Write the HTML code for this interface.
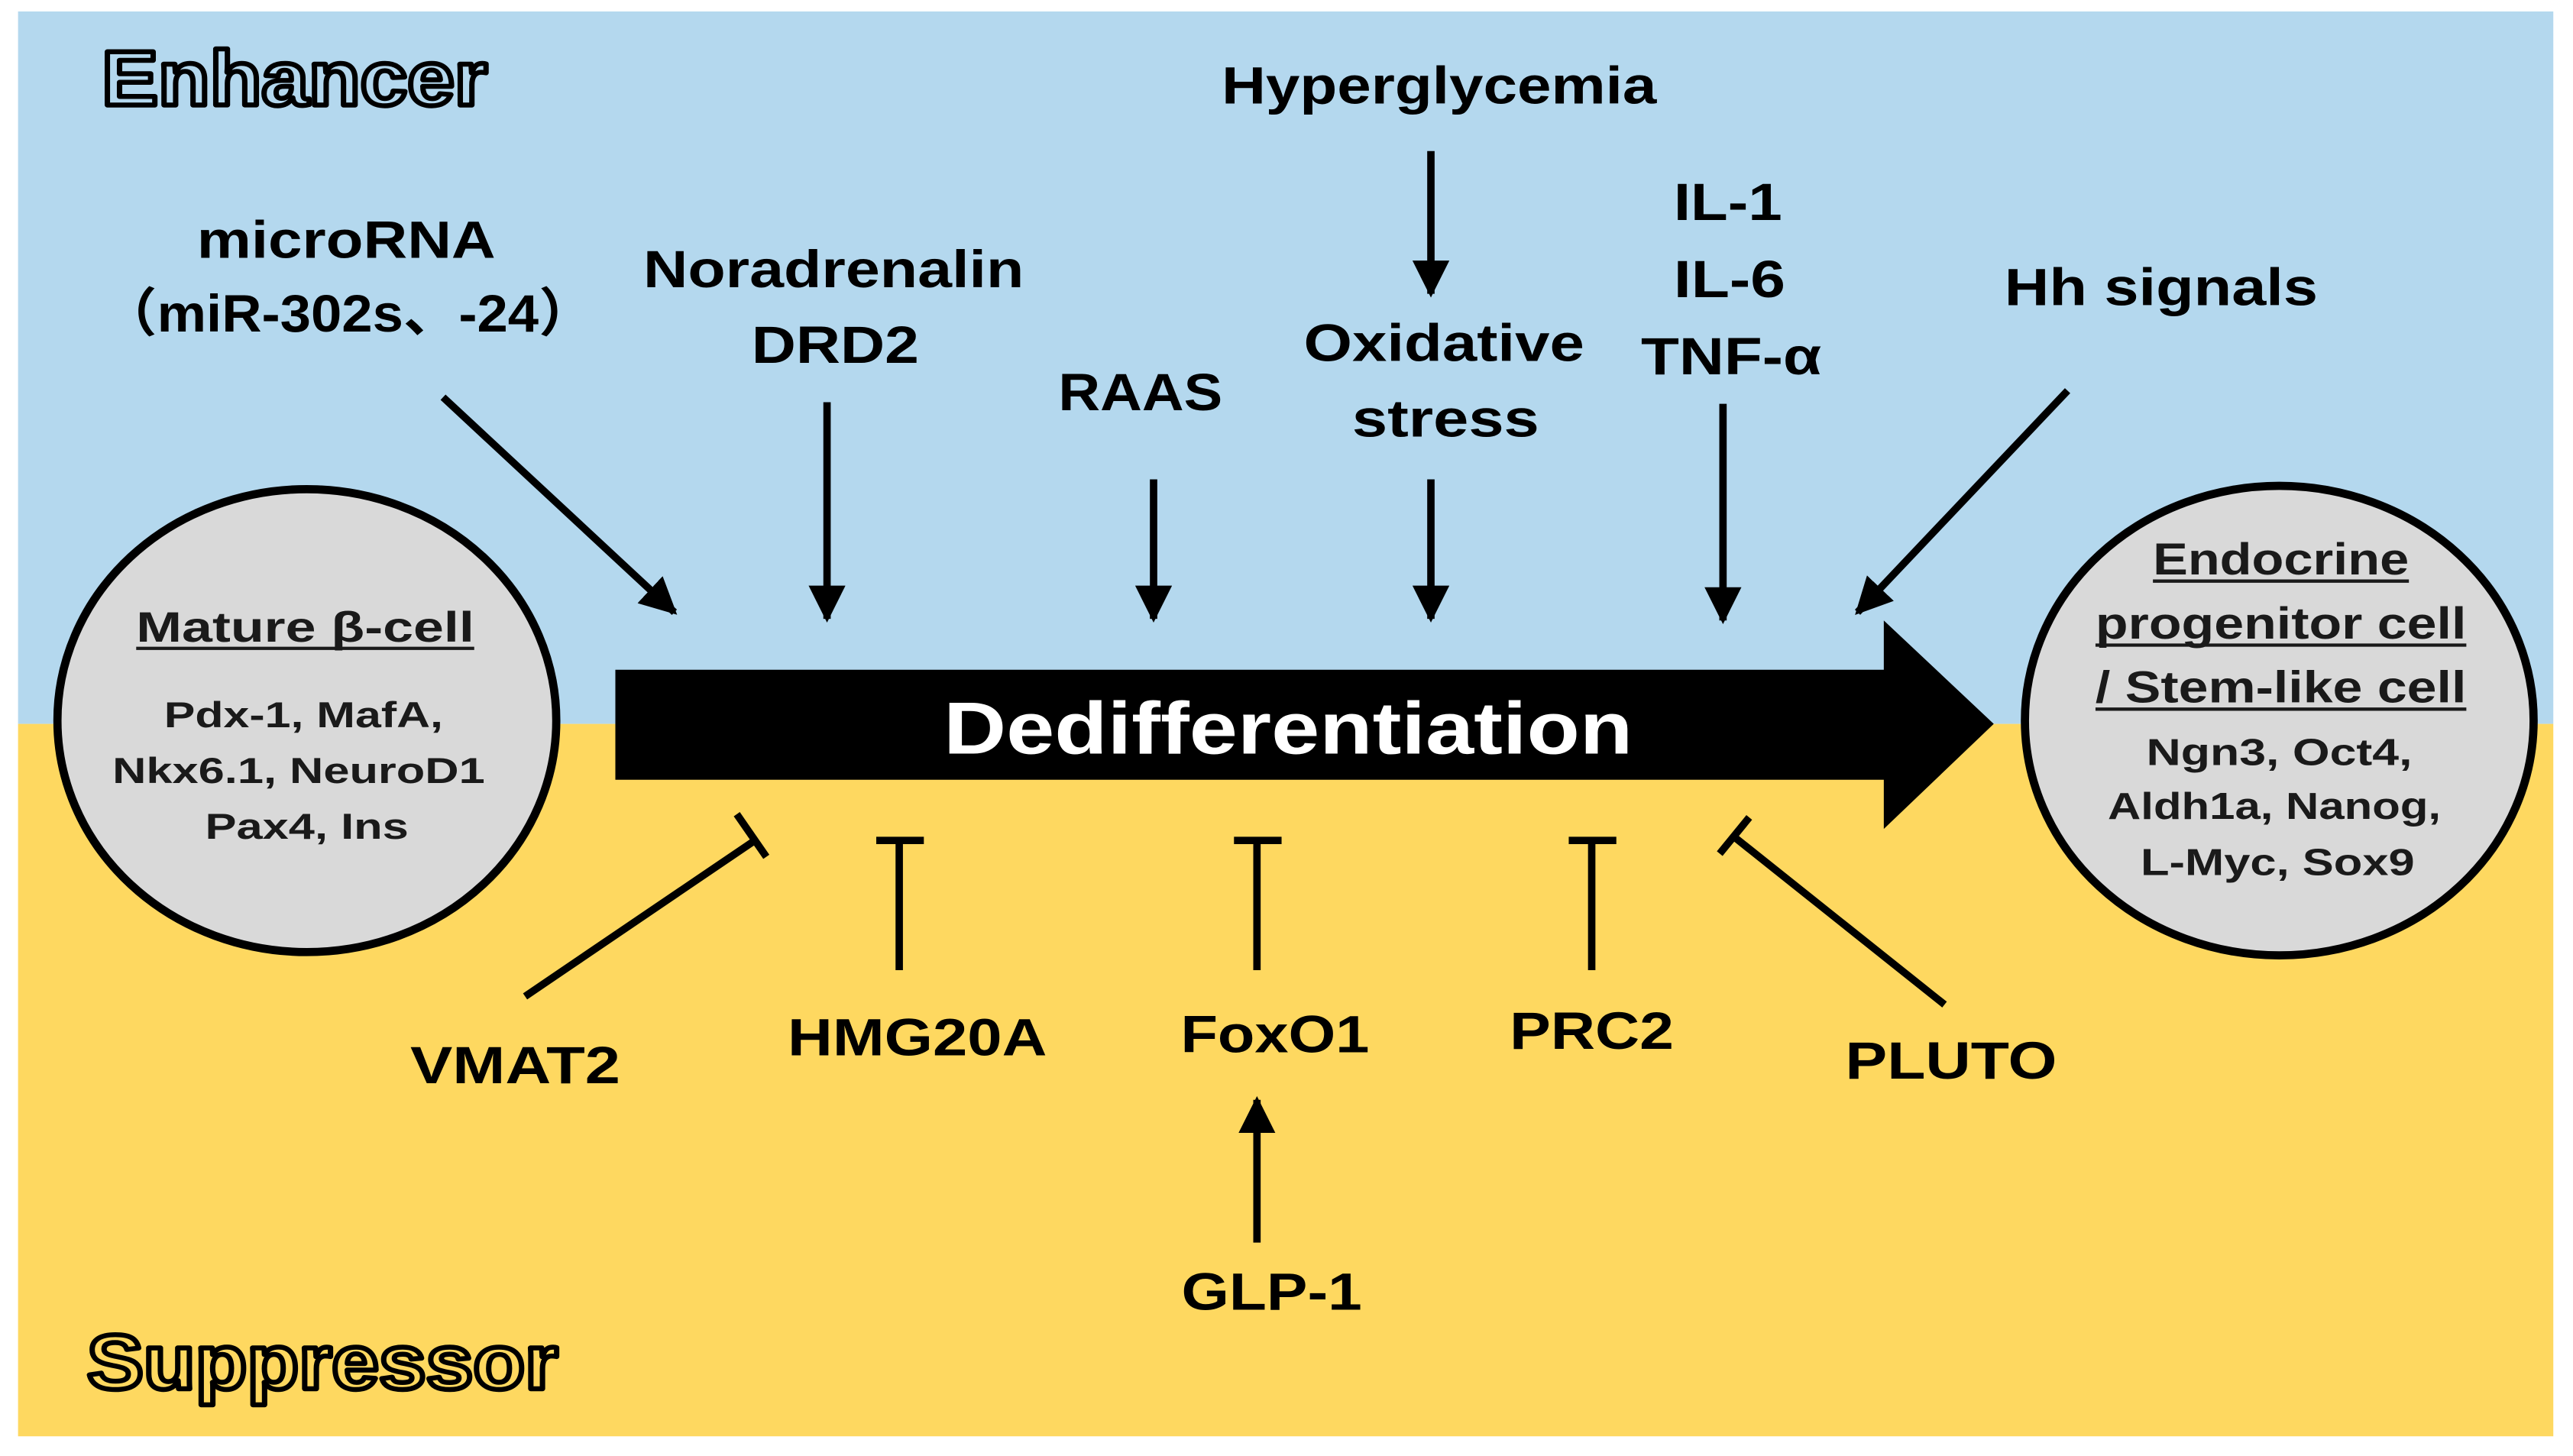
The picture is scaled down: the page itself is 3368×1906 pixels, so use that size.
<!DOCTYPE html>
<html><head><meta charset="utf-8"><style>
html,body{margin:0;padding:0;background:#fff;}
svg{display:block;}
text{font-family:"Liberation Sans","Noto Sans CJK SC",sans-serif;font-weight:bold;}
</style></head><body>
<svg width="3368" height="1906" viewBox="0 0 1568 887" preserveAspectRatio="none" xmlns="http://www.w3.org/2000/svg">
<defs>
<marker id="ah" viewBox="0 0 10 10" refX="9" refY="5" markerWidth="5" markerHeight="5" orient="auto" markerUnits="strokeWidth">
<path d="M0,0 L10,5 L0,10 z" fill="#000"/></marker>
</defs>
<rect x="0" y="0" width="1568" height="887" fill="#fff"/>
<rect x="11" y="7" width="1545" height="434" fill="#b4d8ee"/>
<rect x="11" y="441" width="1545" height="434" fill="#fed860"/>

<text x="62" y="64" font-size="47" fill="#b4d8ee" stroke="#000" stroke-width="3" stroke-linejoin="round" textLength="235" lengthAdjust="spacingAndGlyphs">Enhancer</text>
<text x="53" y="846" font-size="47" fill="#fed860" stroke="#000" stroke-width="3" stroke-linejoin="round" textLength="287" lengthAdjust="spacingAndGlyphs">Suppressor</text>

<ellipse cx="187" cy="439" rx="152" ry="141" fill="#d9d9d9" stroke="#000" stroke-width="5"/>
<ellipse cx="1389" cy="439" rx="155" ry="143" fill="#d9d9d9" stroke="#000" stroke-width="5"/>

<path d="M375,408 L1148,408 L1148,378 L1215,441 L1148,505 L1148,475 L375,475 z" fill="#000"/>
<text x="785" y="459" font-size="45" fill="#fff" text-anchor="middle" textLength="420" lengthAdjust="spacingAndGlyphs">Dedifferentiation</text>

<g stroke="#000" stroke-width="4.5" fill="none" marker-end="url(#ah)">
<line x1="270" y1="242" x2="411" y2="373"/>
<line x1="504" y1="245" x2="504" y2="377"/>
<line x1="703" y1="292" x2="703" y2="377"/>
<line x1="872" y1="92" x2="872" y2="179"/>
<line x1="872" y1="292" x2="872" y2="377"/>
<line x1="1050" y1="246" x2="1050" y2="378"/>
<line x1="1260" y1="238" x2="1132" y2="373"/>
<line x1="766" y1="757" x2="766" y2="670"/>
</g>

<g stroke="#000" stroke-width="4.5" fill="none">
<line x1="320" y1="607" x2="460" y2="512"/>
<line x1="449" y1="496" x2="467" y2="522"/>
<line x1="548" y1="591" x2="548" y2="512"/>
<line x1="534" y1="512" x2="563" y2="512"/>
<line x1="766" y1="591" x2="766" y2="512"/>
<line x1="752" y1="512" x2="781" y2="512"/>
<line x1="970" y1="591" x2="970" y2="512"/>
<line x1="956" y1="512" x2="985" y2="512"/>
<line x1="1185" y1="612" x2="1057" y2="510"/>
<line x1="1048" y1="520" x2="1066" y2="498"/>
</g>

<g font-size="32" fill="#000" text-anchor="middle">
<text x="211" y="157" textLength="182" lengthAdjust="spacingAndGlyphs">microRNA</text>
<text x="212" y="202" textLength="300" lengthAdjust="spacingAndGlyphs">（miR-302s、-24）</text>
<text x="508" y="175" textLength="232" lengthAdjust="spacingAndGlyphs">Noradrenalin</text>
<text x="509" y="221" textLength="102" lengthAdjust="spacingAndGlyphs">DRD2</text>
<text x="695" y="250" textLength="100" lengthAdjust="spacingAndGlyphs">RAAS</text>
<text x="877" y="63" textLength="265" lengthAdjust="spacingAndGlyphs">Hyperglycemia</text>
<text x="880" y="220" textLength="171" lengthAdjust="spacingAndGlyphs">Oxidative</text>
<text x="881" y="266" textLength="114" lengthAdjust="spacingAndGlyphs">stress</text>
<text x="1053" y="134" textLength="66" lengthAdjust="spacingAndGlyphs">IL-1</text>
<text x="1054" y="181" textLength="68" lengthAdjust="spacingAndGlyphs">IL-6</text>
<text x="1055" y="228" textLength="110" lengthAdjust="spacingAndGlyphs">TNF-α</text>
<text x="1317" y="186" textLength="191" lengthAdjust="spacingAndGlyphs">Hh signals</text>
<text x="314" y="660" textLength="128" lengthAdjust="spacingAndGlyphs">VMAT2</text>
<text x="559" y="643" textLength="158" lengthAdjust="spacingAndGlyphs">HMG20A</text>
<text x="777" y="641" textLength="115" lengthAdjust="spacingAndGlyphs">FoxO1</text>
<text x="970" y="639" textLength="100" lengthAdjust="spacingAndGlyphs">PRC2</text>
<text x="1189" y="657" textLength="129" lengthAdjust="spacingAndGlyphs">PLUTO</text>
<text x="775" y="798" textLength="110" lengthAdjust="spacingAndGlyphs">GLP-1</text>
</g>

<g fill="#1a1a1a" text-anchor="middle">
<text x="186" y="391" font-size="26" textLength="206" lengthAdjust="spacingAndGlyphs">Mature  β-cell</text>
<line x1="83" y1="395" x2="289" y2="395" stroke="#1a1a1a" stroke-width="2"/>
<text x="185" y="443" font-size="22" textLength="170" lengthAdjust="spacingAndGlyphs">Pdx-1, MafA,</text>
<text x="182" y="477" font-size="22" textLength="227" lengthAdjust="spacingAndGlyphs">Nkx6.1, NeuroD1</text>
<text x="187" y="511" font-size="22" textLength="124" lengthAdjust="spacingAndGlyphs">Pax4, Ins</text>

<text x="1390" y="350" font-size="27" textLength="156" lengthAdjust="spacingAndGlyphs">Endocrine</text>
<text x="1390" y="389" font-size="27" textLength="226" lengthAdjust="spacingAndGlyphs">progenitor cell</text>
<text x="1390" y="428" font-size="27" textLength="226" lengthAdjust="spacingAndGlyphs">/ Stem-like cell</text>
<line x1="1312" y1="354" x2="1468" y2="354" stroke="#1a1a1a" stroke-width="2"/>
<line x1="1277" y1="393" x2="1503" y2="393" stroke="#1a1a1a" stroke-width="2"/>
<line x1="1277" y1="432" x2="1503" y2="432" stroke="#1a1a1a" stroke-width="2"/>
<text x="1389" y="466" font-size="23" textLength="162" lengthAdjust="spacingAndGlyphs">Ngn3, Oct4,</text>
<text x="1386" y="499" font-size="23" textLength="203" lengthAdjust="spacingAndGlyphs">Aldh1a, Nanog,</text>
<text x="1388" y="533" font-size="23" textLength="167" lengthAdjust="spacingAndGlyphs">L-Myc, Sox9</text>
</g>
</svg>
</body></html>
